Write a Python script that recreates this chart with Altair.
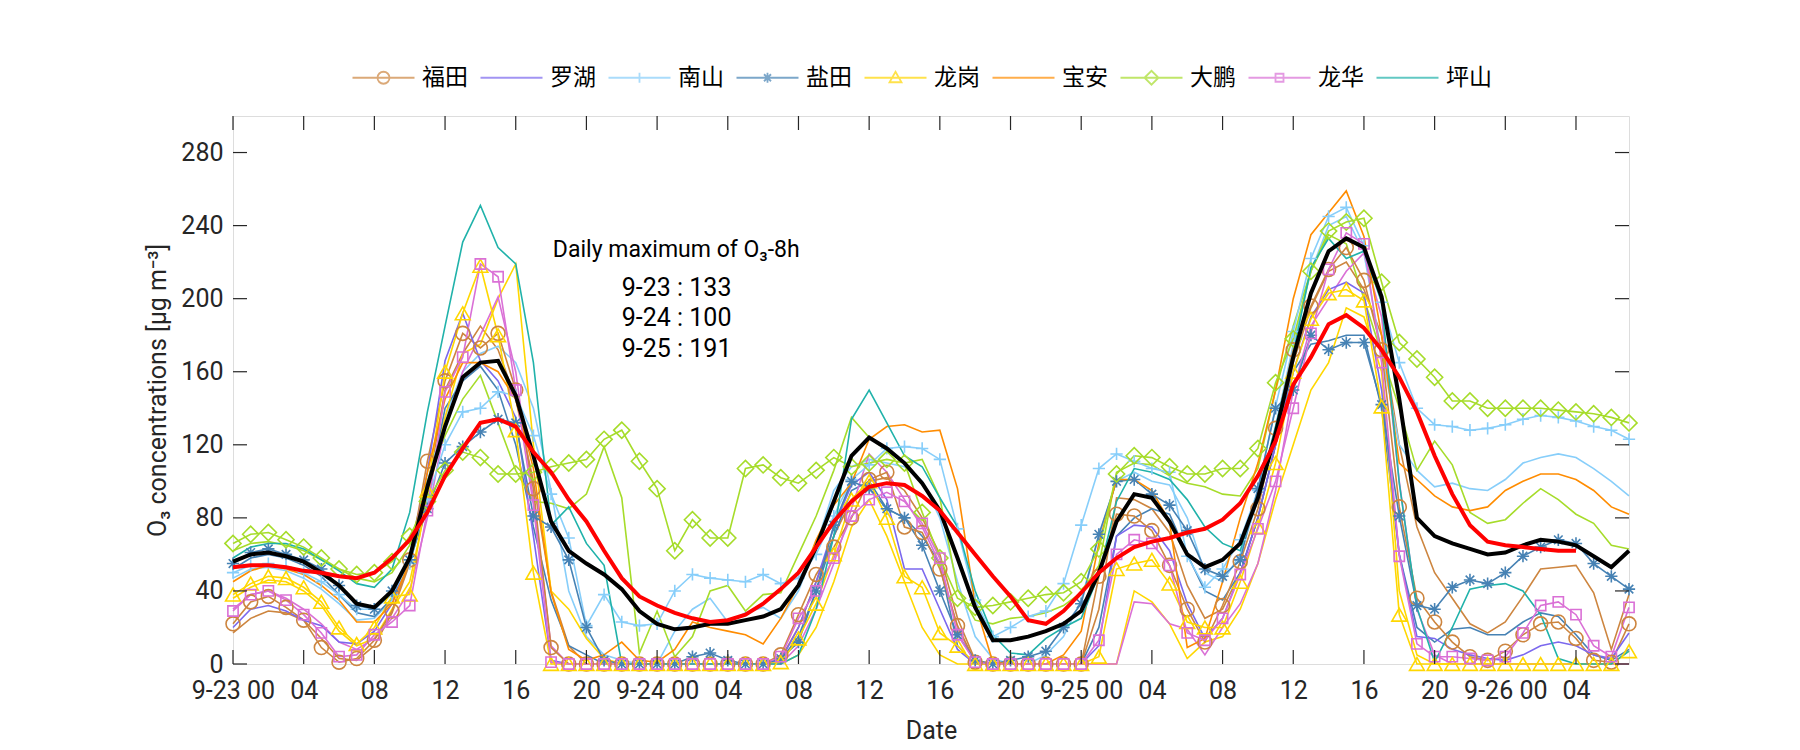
import altair as alt
import pandas as pd

hours = list(range(80))
tick_values = list(range(0, 80, 4))
tick_labels = ["9-23 00", "04", "08", "12", "16", "20", "9-24 00", "04", "08", "12", "16", "20",
               "9-25 00", "04", "08", "12", "16", "20", "9-26 00", "04"]
y_ticks = [0, 40, 80, 120, 160, 200, 240, 280]

stations = ["福田", "罗湖", "南山", "盐田", "龙岗", "宝安", "大鹏", "龙华", "坪山"]
colors = ["#CD853F", "#7B68EE", "#87CEFA", "#4682B4", "#FFD700", "#FF8C00", "#A6DC2A", "#DA70D6", "#20B2AA"]

futian = [22,34,37,31,24,9,1,3,13,29,57,111,155,181,173,181,150,96,9,0,0,
          0,0,0,0,0,0,0,0,0,0,5,27,49,64,80,101,105,75,72,52,
          21,1,0,0,0,0,0,0,48,82,81,73,54,30,12,32,56,85,129,172,
          196,216,228,210,172,86,36,23,12,4,2,7,16,22,23,14,2,1,22]
luohu = [20,30,32,29,24,21,12,11,18,33,58,105,166,192,166,155,135,70,2,0,0,
         0,0,0,0,0,0,0,0,0,0,2,20,45,75,98,105,90,52,52,30,
         8,0,0,0,0,0,0,0,10,70,76,75,62,33,14,25,50,80,120,160,
         190,205,209,203,150,60,15,14,8,5,3,2,5,10,12,10,5,3,17]
nanshan = [50,54,55,53,50,45,38,30,30,38,55,90,120,138,140,149,147,125,93,69,21,
           38,23,21,22,40,49,47,46,45,49,44,47,60,81,101,109,118,119,118,112,
           74,35,15,20,26,29,44,76,107,115,111,107,105,59,42,52,68,95,141,182,
           222,245,250,229,198,165,140,131,130,128,129,131,134,136,135,133,130,128,123]
yantian = [55,61,63,60,57,52,43,32,30,40,57,85,110,119,127,134,132,81,75,57,20,
           2,0,0,0,0,4,6,2,0,0,3,12,40,76,100,96,85,80,65,40,
           16,2,0,2,4,7,20,33,71,100,101,93,87,73,52,48,57,96,140,150,
           180,172,176,176,142,81,32,30,42,46,44,50,59,64,68,66,55,48,41]
longgang = [38,44,48,47,42,34,20,11,20,37,38,95,160,192,218,180,128,50,0,0,0,
            0,0,0,0,0,0,0,0,0,0,1,14,33,60,90,100,80,48,42,17,
            10,0,0,0,0,0,0,0,4,52,55,57,44,23,20,20,45,75,110,160,
            189,203,205,199,141,27,0,0,0,0,0,0,0,0,0,0,0,0,7]
baoan = [45,51,54,52,49,43,35,23,23,33,56,105,145,165,165,160,145,107,39,8,2,
         5,12,2,1,8,23,20,18,16,11,25,43,68,87,99,123,130,131,127,128,
         96,33,1,0,0,0,5,18,66,101,101,95,78,9,14,45,80,110,150,200,
         235,247,259,234,180,110,101,92,86,84,86,95,100,104,104,101,95,86,82]
dapeng = [66,71,72,68,64,58,52,49,50,56,70,89,106,116,113,104,104,105,108,110,112,
          123,128,111,96,62,79,69,69,107,109,102,99,106,113,108,110,112,110,83,58,
          36,31,32,34,36,38,39,45,63,104,114,113,108,104,104,107,107,118,154,178,
          215,237,242,244,209,176,167,157,144,144,140,140,140,140,139,138,137,135,132]
longhua = [29,38,40,35,27,17,4,5,16,23,32,84,149,168,219,212,150,87,1,0,0,
           0,0,0,0,0,0,0,0,0,0,4,25,40,58,81,90,94,89,77,58,
           16,1,0,0,0,0,0,0,13,60,68,66,54,17,13,25,49,74,100,140,
           181,216,236,230,165,59,11,4,4,3,2,4,17,32,34,27,10,4,31]
pingshan = [58,64,66,66,63,57,51,44,42,52,83,138,185,231,251,228,219,165,76,86,66,
            54,0,0,0,0,0,0,0,0,0,0,5,30,70,134,150,132,114,108,91,
            75,40,16,6,5,14,20,25,49,89,107,105,101,90,75,66,62,93,130,170,
            217,233,222,226,198,99,31,1,20,41,43,44,40,27,3,0,0,0,7]

# second stations (no markers, not in legend)
futian2 = [17,25,29,28,24,14,3,2,10,28,55,95,150,170,185,172,145,100,40,10,0,
           0,0,0,0,0,0,0,0,0,0,3,20,45,70,90,100,102,95,80,60,
           25,2,0,0,0,0,0,0,30,91,90,85,72,43,25,30,50,80,120,165,
           195,215,220,205,180,120,75,50,36,22,17,23,37,52,53,54,39,8,38]
nanshan2 = [47,52,53,51,47,41,33,24,25,35,60,100,135,160,170,174,165,140,95,40,15,
            5,2,0,0,18,30,36,23,28,31,25,40,65,95,108,112,110,108,100,80,
            45,15,3,0,0,5,15,35,70,100,105,100,98,80,50,45,60,90,130,175,
            215,240,245,225,170,120,106,97,99,96,95,101,110,113,115,113,107,100,92]
yantian2 = [52,58,60,58,54,48,38,28,26,36,55,90,140,155,163,150,120,75,35,10,5,
            0,0,0,0,0,0,0,0,0,0,2,15,40,70,95,100,85,80,70,55,
            10,0,0,0,0,0,0,0,20,70,80,85,82,60,40,35,50,80,120,160,
            175,177,180,180,140,60,20,12,19,20,16,16,23,28,26,16,5,2,8]
longgang2 = [36,42,46,45,40,32,18,10,14,30,45,90,135,170,175,200,219,120,40,30,14,
             3,0,0,0,0,0,0,0,0,0,0,5,20,45,75,90,70,45,20,5,
             0,0,0,0,0,0,0,0,0,0,40,34,22,3,12,15,30,55,90,120,
             150,165,195,190,160,40,5,0,0,0,0,0,0,0,0,0,0,0,0]
dapeng2 = [62,66,67,65,62,57,52,47,45,50,65,100,125,145,158,132,106,89,88,85,93,
           119,91,6,29,4,15,40,43,29,38,39,60,81,106,135,124,117,110,112,91,
           41,24,22,25,26,28,32,39,54,105,110,109,103,99,97,93,92,107,150,185,
           215,235,230,200,170,140,106,122,109,83,77,79,88,96,90,82,77,65,63]
longhua2 = [30,38,40,36,30,22,12,8,14,25,40,80,130,160,180,201,160,90,10,0,0,
            0,0,0,0,0,0,0,0,0,0,0,10,30,55,85,115,105,90,75,55,
            20,0,0,0,0,0,0,0,0,0,34,33,22,19,5,20,33,55,95,150,
            185,200,215,225,190,100,30,5,0,0,0,0,0,0,0,0,0,0,0]

mean_all = [56,60,61,59,56,50,43,33,31,40,58,97,130,157,165,166,147,114,78,62,55,
            49,41,29,22,19,20,22,22,24,26,30,43,64,89,114,124,118,110,99,84,
            58,31,13,13,15,18,22,29,50,78,93,91,78,60,53,57,66,91,126,168,
            203,226,233,228,201,145,80,70,66,63,60,61,65,68,67,65,59,53,62]
o3_8h = [53,54,54,53,51,50,48,47,50,58,68,83,103,118,132,134,130,116,105,90,78,
         62,47,37,32,28,25,23,24,27,33,41,50,64,78,89,97,99,98,92,84,
         72,60,48,37,24,22,29,39,50,58,64,67,69,72,74,79,88,103,122,153,
         168,186,191,184,172,157,138,114,93,76,67,65,64,63,62,62,None,None,None]

ann_title = "Daily maximum of O₃-8h"
ann_days = ["9-23", "9-24", "9-25"]
ann_max = [133, 100, 191]

main_series = [futian, luohu, nanshan, yantian, longgang, baoan, dapeng, longhua, pingshan]
second_names = ["福田2", "南山2", "盐田2", "龙岗2", "大鹏2", "龙华2"]
second_series = [futian2, nanshan2, yantian2, longgang2, dapeng2, longhua2]
second_colors = ["#CD853F", "#87CEFA", "#4682B4", "#FFD700", "#A6DC2A", "#DA70D6"]

for s in main_series + second_series + [mean_all, o3_8h]:
    assert len(s) == 80

rows = []
for name, vals in zip(stations, main_series):
    for h, v in zip(hours, vals):
        rows.append({"hour": h, "value": v, "series": name})
df_main = pd.DataFrame(rows)
rows = []
for name, vals in zip(second_names, second_series):
    for h, v in zip(hours, vals):
        rows.append({"hour": h, "value": v, "series2": name})
df_sec = pd.DataFrame(rows)
df_mean = pd.DataFrame({"hour": hours, "value": mean_all})
df_8h = pd.DataFrame({"hour": hours, "value": o3_8h}).dropna()

W, H = 1396, 548
FONT = "Roboto"
AX = "#262626"

label_expr = " : ".join(f"datum.value == {v} ? '{l}'" for v, l in zip(tick_values, tick_labels)) + " : ''"

xenc = alt.X("hour:Q", scale=alt.Scale(domain=[0, 79], nice=False, zero=False),
             axis=alt.Axis(values=tick_values, labelExpr=label_expr, title="Date",
                           labelFlush=False, labelOverlap=False, ticks=False, domain=False, grid=False,
                           labelFont=FONT, labelFontSize=25, labelColor=AX, labelPadding=14,
                           titleFont=FONT, titleFontSize=25, titleFontWeight="normal", titleColor=AX,
                           titlePadding=15))
yenc = alt.Y("value:Q", scale=alt.Scale(domain=[0, 300], nice=False),
             axis=alt.Axis(values=y_ticks, title="O₃ concentrations [μg m⁻³]",
                           ticks=False, domain=False, grid=False,
                           labelFont=FONT, labelFontSize=25, labelColor=AX, labelPadding=10,
                           titleFont=FONT, titleFontSize=25, titleFontWeight="normal", titleColor=AX,
                           titlePadding=10))

sec_lines = alt.Chart(df_sec).mark_line(strokeWidth=1.6).encode(
    x=xenc, y=yenc,
    color=alt.Color("series2:N", scale=alt.Scale(domain=second_names, range=second_colors), legend=None))

main_lines = alt.Chart(df_main).mark_line(strokeWidth=1.6).encode(
    x="hour:Q", y="value:Q",
    color=alt.Color("series:N", scale=alt.Scale(domain=stations, range=colors), legend=None),
    detail="series:N")

marker_spec = {
    "福田": ("circle", 195),
    "南山": ("M-1,0H1M0,-1V1", 150),
    "盐田": ("M-1,0H1M0,-1V1M-0.7,-0.7L0.7,0.7M-0.7,0.7L0.7,-0.7", 150),
    "龙岗": ("triangle-up", 220),
    "大鹏": ("diamond", 260),
    "龙华": ("square", 105),
}
marker_layers = []
for name, (shape, size) in marker_spec.items():
    col = colors[stations.index(name)]
    marker_layers.append(
        alt.Chart(df_main).transform_filter(alt.datum.series == name)
        .mark_point(shape=shape, size=size, filled=False, strokeWidth=1.6, color=col, opacity=1)
        .encode(x="hour:Q", y="value:Q"))

mean_line = alt.Chart(df_mean).mark_line(color="black", strokeWidth=4).encode(x="hour:Q", y="value:Q")
h8_line = alt.Chart(df_8h).mark_line(color="#FF0000", strokeWidth=4).encode(x="hour:Q", y="value:Q")

# legend carrier (draws nothing, only the legend); symbol unit = 5 px
L = "M-10.8,0H1.6"
legend_paths = [
    L + "M-3.4,0A1.2,1.2 0 1,1 -5.8,0A1.2,1.2 0 1,1 -3.4,0",
    L,
    L + "M-4.6,-1V1",
    L + "M-4.6,-1V1M-5.3,-0.7L-3.9,0.7M-5.3,0.7L-3.9,-0.7",
    L + "M-4.6,-1.2L-3.4,0.9L-5.8,0.9Z",
    L,
    L + "M-6,0L-4.6,-1.4L-3.2,0L-4.6,1.4Z",
    L + "M-5.4,-0.8H-3.8V0.8H-5.4Z",
    L,
]
leg = alt.Legend(title=None, orient="none", legendX=162, legendY=-50, direction="horizontal",
                 columns=9, labelFont="Noto Sans CJK SC", labelFontSize=23, labelColor="black",
                 symbolSize=100, symbolStrokeWidth=1.8, labelOffset=4, columnPadding=8,
                 symbolFillColor="white")
legend_layer = alt.Chart(df_main).transform_filter("datum.hour < 0").mark_point(
    size=100, filled=False, strokeWidth=1.8).encode(
    x="hour:Q", y="value:Q",
    color=alt.Color("series:N", scale=alt.Scale(domain=stations, range=colors), legend=leg),
    shape=alt.Shape("series:N", scale=alt.Scale(domain=stations, range=legend_paths), legend=leg))

# inward ticks on all four sides
xt = pd.DataFrame({"t": tick_values})
yt = pd.DataFrame({"v": y_ticks})
tk = dict(color=AX, strokeWidth=1.2)
tick_bottom = alt.Chart(xt).mark_rule(**tk).encode(x="t:Q", y=alt.value(H), y2=alt.value(H - 14))
tick_top = alt.Chart(xt).mark_rule(**tk).encode(x="t:Q", y=alt.value(0), y2=alt.value(14))
tick_left = alt.Chart(yt).mark_rule(**tk).encode(y="v:Q", x=alt.value(0), x2=alt.value(14))
tick_right = alt.Chart(yt).mark_rule(**tk).encode(y="v:Q", x=alt.value(W), x2=alt.value(W - 14))

ann_head = pd.DataFrame({"x": [18.1], "y": [222.8], "t": [ann_title]})
ann_lines = pd.DataFrame({
    "x": [22.0] * 3,
    "y": [201.5, 184.8, 168.0],
    "t": [f"{d} : {m}" for d, m in zip(ann_days, ann_max)],
})
ann_text1 = alt.Chart(ann_head).mark_text(align="left", baseline="alphabetic", font=FONT, fontSize=23,
                                          color="black").encode(x="x:Q", y="y:Q", text="t:N")
ann_text2 = alt.Chart(ann_lines).mark_text(align="left", baseline="alphabetic", font=FONT, fontSize=25,
                                           color="black").encode(x="x:Q", y="y:Q", text="t:N")

chart = alt.layer(
    sec_lines, main_lines, *marker_layers, mean_line, h8_line, legend_layer,
    tick_bottom, tick_top, tick_left, tick_right, ann_text1, ann_text2
).resolve_scale(color="independent", shape="independent").properties(
    width=W, height=H,
    autosize=alt.AutoSizeParams(type="none"),
    padding={"left": 225, "top": 108, "right": 160, "bottom": 80},
).configure_view(stroke=AX, strokeWidth=1.3).configure(background="white")

chart.save("out.html", embed_options={"renderer": "svg", "actions": False})
